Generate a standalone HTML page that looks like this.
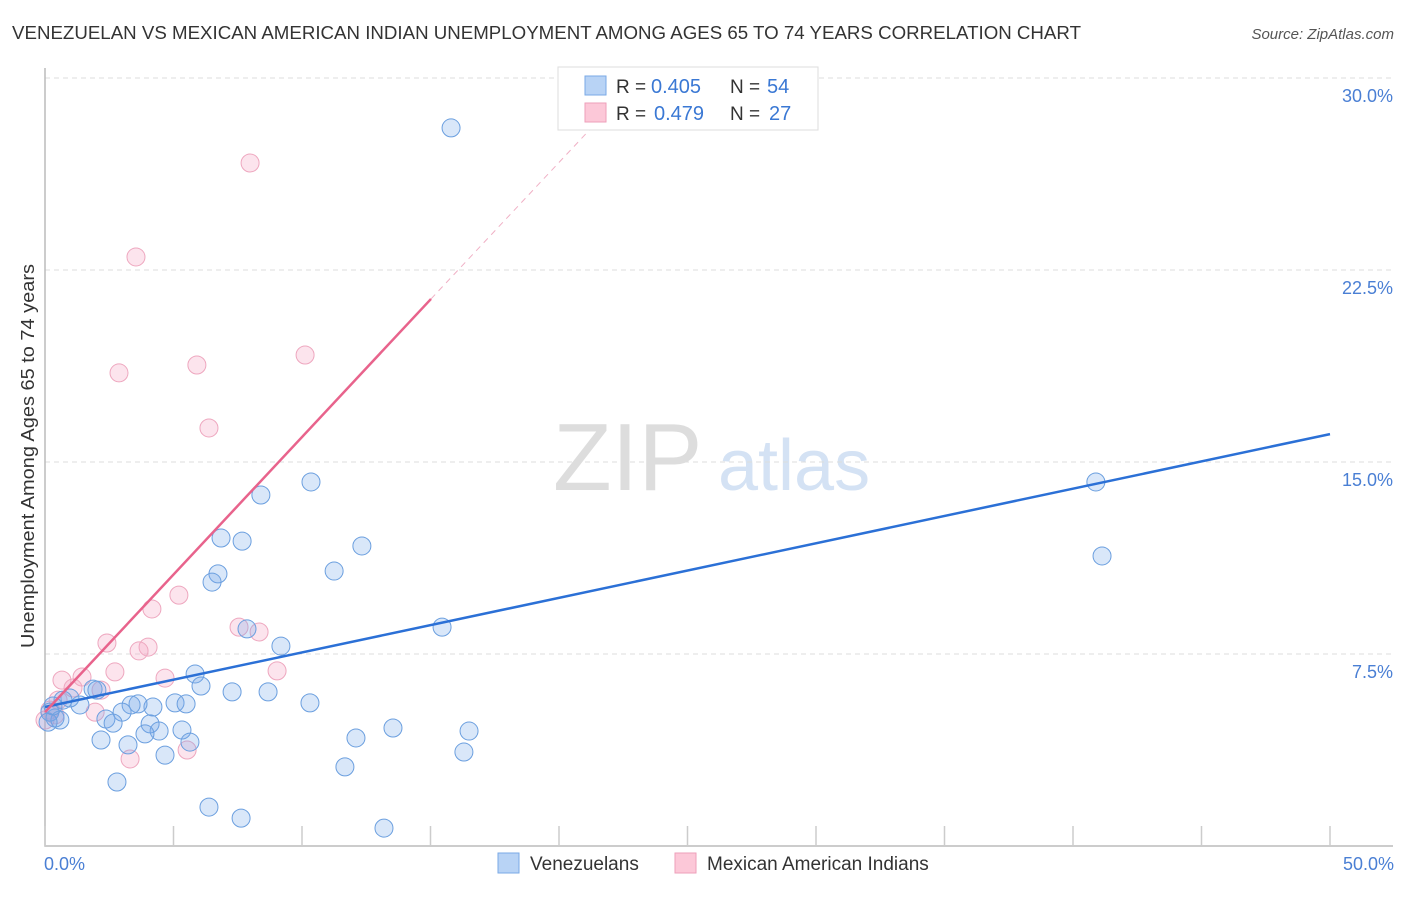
<!DOCTYPE html>
<html><head><meta charset="utf-8"><style>
body{margin:0;background:#fff;font-family:"Liberation Sans",sans-serif}
svg text{font-family:"Liberation Sans",sans-serif}
</style></head><body>
<svg id="chart" width="1406" height="892" xmlns="http://www.w3.org/2000/svg">
<text x="12" y="39" font-size="18" fill="#333" textLength="1069" lengthAdjust="spacingAndGlyphs">VENEZUELAN VS MEXICAN AMERICAN INDIAN UNEMPLOYMENT AMONG AGES 65 TO 74 YEARS CORRELATION CHART</text>
<text x="1394" y="39" font-size="15" fill="#555" text-anchor="end" font-style="italic">Source: ZipAtlas.com</text>
<g>
<text x="553" y="490" font-size="96" fill="#ddd" font-family="Liberation Serif">ZIP</text>
<text x="718" y="490" font-size="72" fill="#d4e2f4">atlas</text></g>
<g id="grid"></g><g id="marks"></g><g id="lines"></g>
<text transform="translate(34,456) rotate(-90)" font-size="18" fill="#333" text-anchor="middle" textLength="384" lengthAdjust="spacingAndGlyphs">Unemployment Among Ages 65 to 74 years</text>
<text x="44" y="870" font-size="18" fill="#4a7fd4">0.0%</text>
<text x="1394" y="870" font-size="18" fill="#4a7fd4" text-anchor="end">50.0%</text>
<g>
<rect x="558" y="67" width="260" height="63" fill="#fff" stroke="#ddd"/>
<rect x="585" y="76" width="21" height="19" fill="#b8d3f5" stroke="#7aa9e6"/>
<rect x="585" y="103" width="21" height="19" fill="#fcc8d8" stroke="#ee9fba"/>
<text x="616" y="93" font-size="19" fill="#333">R =</text>
<text x="651" y="93" font-size="20" fill="#3a78d4">0.405</text>
<text x="730" y="93" font-size="19" fill="#333">N =</text>
<text x="767" y="93" font-size="20" fill="#3a78d4">54</text>
<text x="616" y="120" font-size="19" fill="#333">R =</text>
<text x="654" y="120" font-size="20" fill="#3a78d4">0.479</text>
<text x="730" y="120" font-size="19" fill="#333">N =</text>
<text x="769" y="120" font-size="20" fill="#3a78d4">27</text>
</g>
<g>
<rect x="498" y="853" width="21" height="20" fill="#b8d3f5" stroke="#7aa9e6"/>
<text x="530" y="870" font-size="19" fill="#333">Venezuelans</text>
<rect x="675" y="853" width="21" height="20" fill="#fcc8d8" stroke="#ee9fba"/>
<text x="707" y="870" font-size="19" fill="#333">Mexican American Indians</text>
</g>
</svg>
<script>
const yTicks=[7.5,15,22.5,30];
const yTickLabels=["7.5%","15.0%","22.5%","30.0%"];
const xTicks=[0,5,10,15,20,25,30,35,40,45,50];
const blueX=[15.80,40.89,41.13,8.40,10.35,6.85,7.67,12.33,6.73,6.50,11.25,15.45,7.86,9.18,5.84,6.07,7.28,8.68,10.31,5.06,5.49,4.20,3.62,3.35,3.00,1.87,2.02,1.36,0.97,0.70,2.37,2.65,4.09,4.44,3.89,5.33,13.54,16.50,2.18,3.23,5.64,12.10,4.67,16.30,11.67,2.80,6.38,7.63,13.19,0.39,0.19,0.58,0.12,0.31];
const blueY=[28.05,14.22,11.33,13.71,14.22,12.03,11.91,11.72,10.63,10.31,10.74,8.55,8.48,7.81,6.72,6.25,6.02,6.02,5.59,5.59,5.55,5.43,5.55,5.51,5.23,6.13,6.09,5.51,5.78,5.70,4.96,4.80,4.77,4.49,4.38,4.53,4.61,4.49,4.14,3.95,4.06,4.22,3.55,3.67,3.09,2.50,1.52,1.09,0.70,5.00,5.23,4.92,4.84,5.47];
const pinkX=[7.98,3.54,2.88,5.91,10.12,6.38,5.21,4.16,2.41,4.01,3.66,7.55,8.33,2.72,4.67,9.03,0.66,1.44,1.09,2.18,1.95,3.31,5.53,0.51,0.19,0.00,0.39];
const pinkY=[26.68,23.01,18.48,18.79,19.18,16.33,9.80,9.26,7.93,7.77,7.62,8.55,8.36,6.80,6.56,6.84,6.48,6.60,6.17,6.09,5.23,3.40,3.75,5.70,5.31,4.92,5.12];
const blueLine=[0,5.43,50,16.09];
const pinkLine=[0,5.23,15.02,21.37];
const pinkDash=[15.02,21.37,21.4,28.2];
const NS="http://www.w3.org/2000/svg";
const X=v=>45+v/50*1285, Y=v=>846-v*25.6;
function mk(t,a,p){const e=document.createElementNS(NS,t);for(const k in a)e.setAttribute(k,a[k]);p.appendChild(e);return e;}
const grid=document.getElementById('grid'),marks=document.getElementById('marks'),lines=document.getElementById('lines');
yTicks.forEach((v,i)=>{
 const l=mk('line',{x1:45,x2:1393,y1:Y(v),y2:Y(v),stroke:'#ddd','stroke-dasharray':'5,4'},grid);
 
 
 const t=mk('text',{x:1393,y:Y(v)+24,'font-size':18,fill:'#4a7fd4','text-anchor':'end'},grid);
 t.textContent=yTickLabels[i];
 
 
});
const ax=mk('path',{d:'M45,68V846H1393',fill:'none',stroke:'#bbb','stroke-width':1.5},grid);


xTicks.forEach(v=>{
 const l=mk('line',{x1:X(v),x2:X(v),y1:826,y2:846,stroke:'#ccc','stroke-width':1.5},grid);
 
 
});
function pts(xs,ys,fill,stroke,name){xs.forEach((v,i)=>{
 const c=mk('circle',{cx:X(v),cy:Y(ys[i]),r:9,fill:fill,stroke:stroke,'stroke-width':1},marks);
 
 
});}
pts(pinkX,pinkY,'rgba(245,165,195,0.3)','#eea7bf','mexican-american-indian-point');
pts(blueX,blueY,'rgba(120,170,235,0.28)','#6b9fdf','venezuelan-point');
function ln(a,col,w,dash,name){
 const l=mk('line',{x1:X(a[0]),y1:Y(a[1]),x2:X(a[2]),y2:Y(a[3]),stroke:col,'stroke-width':w},lines);
 if(dash)l.setAttribute('stroke-dasharray',dash);
 
 
}
ln(blueLine,'#2b70d6',2.5,null,'venezuelan-trend-line');
ln(pinkLine,'#e8638c',2.5,null,'mexican-american-indian-trend-line');
ln(pinkDash,'#f0b0c5',1,'6,5','mexican-american-indian-trend-extension');
</script>
</body></html>
